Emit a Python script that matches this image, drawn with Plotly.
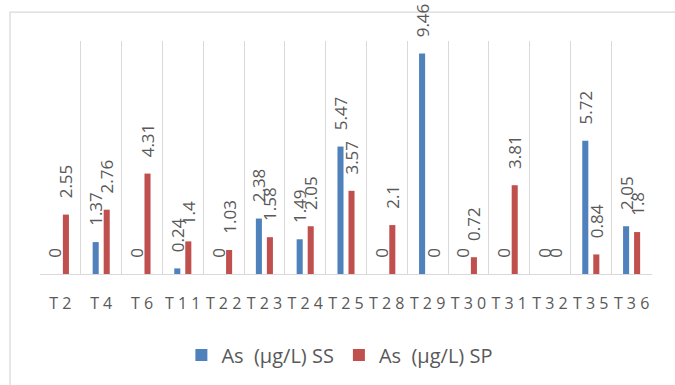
import plotly.graph_objects as go

categories = ["T2", "T4", "T6", "T11", "T22", "T23", "T24", "T25", "T28", "T29", "T30", "T31", "T32", "T35", "T36"]
tick_labels = ["T 2", "T 4", "T 6", "T 1 1", "T 2 2", "T 2 3", "T 2 4", "T 2 5", "T 2 8", "T 2 9", "T 3 0", "T 3 1", "T 3 2", "T 3 5", "T 3 6"]
as_ss = [0, 1.37, 0, 0.24, 0, 2.38, 1.49, 5.47, 0, 9.46, 0, 0, 0, 5.72, 2.05]
as_sp = [2.55, 2.76, 4.31, 1.4, 1.03, 1.58, 2.05, 3.57, 2.1, 0, 0.72, 3.81, 0, 0.84, 1.8]
series_names = ["As\u00a0 (\u00b5g/L) SS", "As\u00a0 (\u00b5g/L) SP"]
colors = ["#4F81BD", "#C0504D"]

PAD = "\u00a0\u00a0\u00a0"
LABEL_FONT = dict(family="Open Sans", size=17, color="#595959")

fig = go.Figure()
for name, vals, col in zip(series_names, [as_ss, as_sp], colors):
    fig.add_trace(go.Bar(
        x=categories, y=vals, name=name,
        marker=dict(color=col, line=dict(width=0)),
        text=[PAD + f"{v:g}" for v in vals],
        textposition="outside", textangle=-90,
        textfont=LABEL_FONT, constraintext="none", cliponaxis=False,
    ))

fig.update_layout(
    width=675, height=385,
    margin=dict(l=40, r=23, t=41, b=110),
    paper_bgcolor="white", plot_bgcolor="white",
    barmode="group", bargap=0.46, bargroupgap=0.45,
    showlegend=True,
    legend=dict(orientation="h", x=0.49, xanchor="center", y=-0.342, yanchor="middle",
                font=dict(family="Open Sans", size=20, color="#595959"),
                itemwidth=30, traceorder="normal"),
    xaxis=dict(type="category", tickson="boundaries", tickmode="array",
               tickvals=categories, ticktext=tick_labels, tickangle=0,
               ticklabelstandoff=15,
               showgrid=True, gridcolor="#d9d9d9", gridwidth=1.3,
               showline=True, linecolor="#d9d9d9", linewidth=1.3,
               ticks="", tickfont=dict(family="Open Sans", size=16, color="#595959")),
    yaxis=dict(range=[0, 10], visible=False, showgrid=False, zeroline=False),
    shapes=[dict(type="rect", xref="paper", yref="paper",
                 x0=(10 - 40) / 612, x1=1.2, y0=-0.8, y1=(275 - 12) / 234,
                 line=dict(color="#d9d9d9", width=1.3), fillcolor="rgba(0,0,0,0)", layer="below")],
)

fig.write_html("out.html")
